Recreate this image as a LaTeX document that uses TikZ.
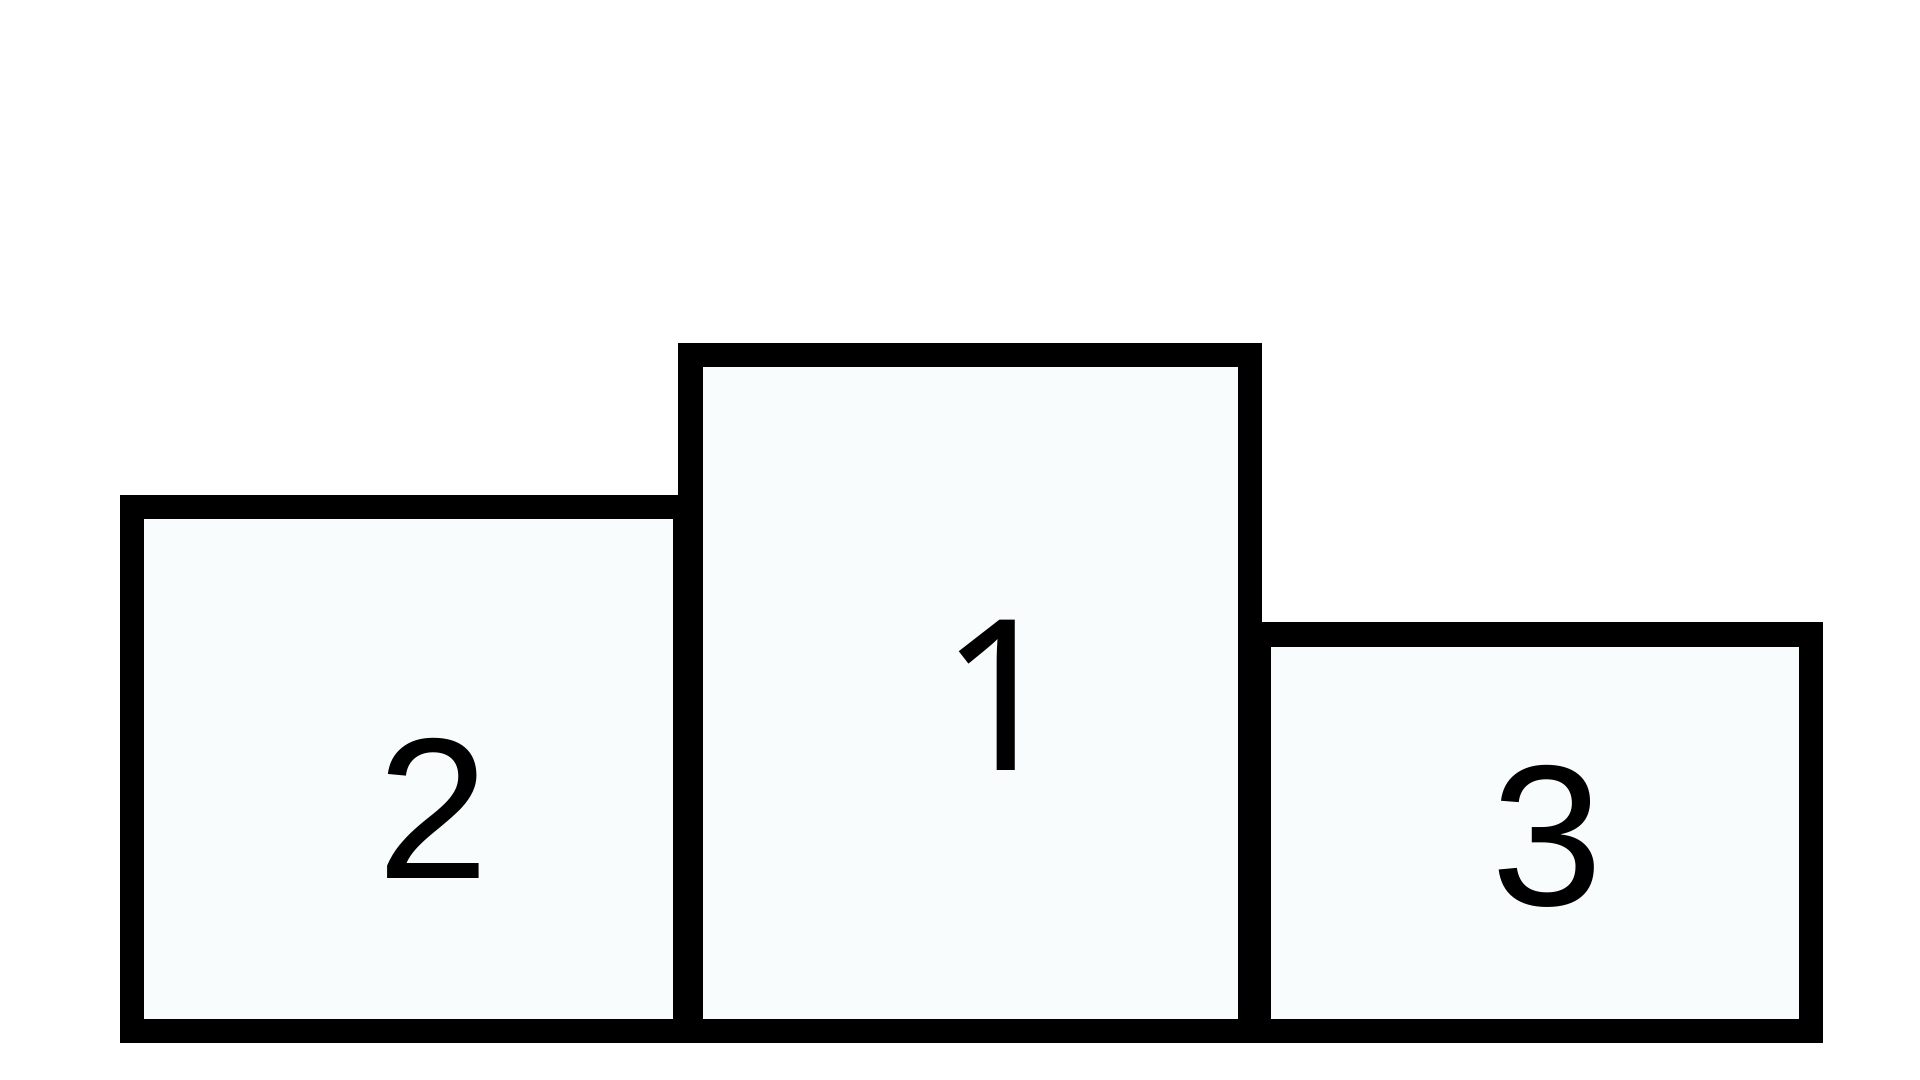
\documentclass[tikz,border=0pt]{standalone}
\usepackage{fontspec}
\setmainfont{Liberation Sans}
\newfontfamily\onefont{Noto Sans}
\usepackage{xcolor}
\usepackage{tikz}
\definecolor{stepfill}{RGB}{248,252,253}
\tikzset{
  block/.style={line width=20pt, draw=black, fill=stepfill},
  place/.style={inner sep=0pt, anchor=base}
}

\begin{document}
\begin{tikzpicture}[x=1pt,y=-1pt]
    \useasboundingbox (0,0) rectangle (1568,882);
    \draw[block] (108,414) rectangle (559.5,842);
    \draw[block] (564,290) rectangle (1021,842);
    \draw[block] (1028,518) rectangle (1479,842);
    \node[place, font=\fontsize{164}{164}\selectfont] (second) at (353.5,717.5) {2};
    \node[place, font=\onefont\fontsize{172}{172}\selectfont] (first) at (817,629) {1};
    \node[place, font=\fontsize{164}{164}\selectfont] (third) at (1264,739.5) {3};
  \end{tikzpicture}
\end{document}
